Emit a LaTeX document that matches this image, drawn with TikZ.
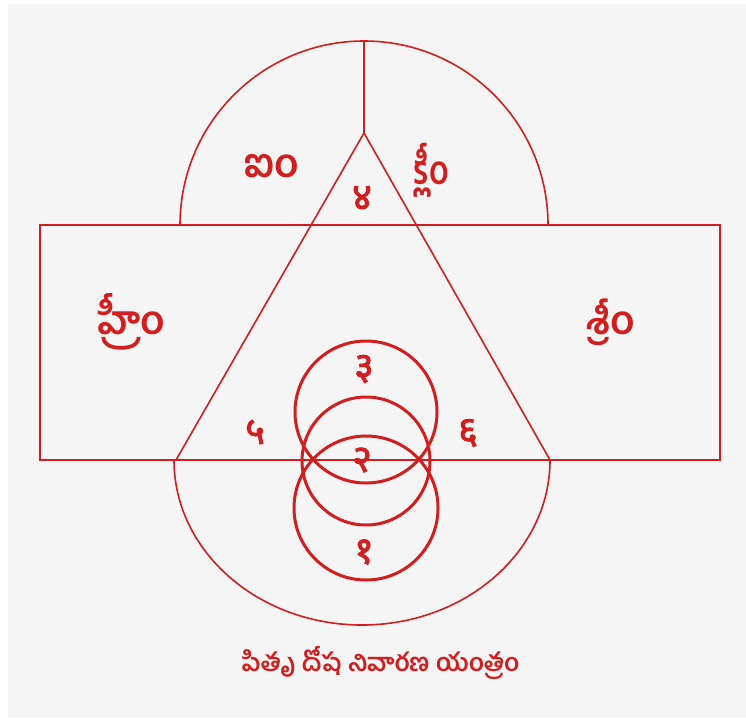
\documentclass[tikz,border=0pt]{standalone}
\usepackage{fontspec}
\newfontfamily\tel[Script=Telugu]{Hind Guntur}
\newfontfamily\deva[Script=Devanagari, FakeBold=2.5]{Noto Sans}
\definecolor{yred}{RGB}{210,30,30}
\definecolor{bgray}{RGB}{245,245,245}
\tikzset{
  thinline/.style={draw=yred, line width=1.6pt},
  thickcirc/.style={draw=yred, line width=3pt},
  bija/.style={text=yred, font=\tel\bfseries\fontsize{40}{44}\selectfont, inner sep=0pt},
  num/.style={text=yred, font=\deva\fontsize{38}{42}\selectfont, inner sep=0pt},
  title/.style={text=yred, font=\tel\bfseries\fontsize{25}{29}\selectfont, inner sep=0pt}
}
\begin{document}
\begin{tikzpicture}[x=1pt,y=-1pt]
\useasboundingbox (0,0) rectangle (746,717);
\fill[white] (0,0) rectangle (746,717);
\fill[bgray] (8,4) rectangle (746,717);
% coordinates
\coordinate (apex) at (364,133);
\coordinate (bl) at (176,460);
\coordinate (br) at (550,460);
\coordinate (topc) at (364,41);
% top semicircle
\draw[thinline] (180,225) arc[start angle=180, end angle=360, radius=184];
% bottom semi-ellipse
\draw[thinline] (174,460) arc[start angle=180, end angle=0, x radius=188, y radius=165];
% rectangle
\draw[thinline] (40,225) rectangle (720,460);
% triangle
\draw[thinline, line join=round] (apex) -- (bl) -- (br) -- cycle;
% vertical divider
\draw[thinline] (topc) -- (apex);
% circles
\draw[thickcirc] (366,412) circle[radius=71];
\draw[thickcirc] (366,461) circle[radius=64];
\draw[thickcirc] (366,508) circle[radius=72];
% texts
\node[bija] (aim) at (272,166) {ఐం};
\node[bija, xscale=0.8] (klim) at (432,170) {క్లీం};
\node[bija] (hrim) at (132,322) {హ్రీం};
\node[bija] (srim) at (611,322) {శ్రీం};
\node[num] (n4) at (362,198) {४};
\node[num] (n5) at (255,432) {५};
\node[num] (n6) at (468,433) {६};
\node[num] (n3) at (364,369) {३};
\node[num] (n2) at (362,460) {२};
\node[num] (n1) at (364,552) {१};
\node[title] (ttl) at (381,663) {పితృ దోష నివారణ యంత్రం};
\end{tikzpicture}
\end{document}
